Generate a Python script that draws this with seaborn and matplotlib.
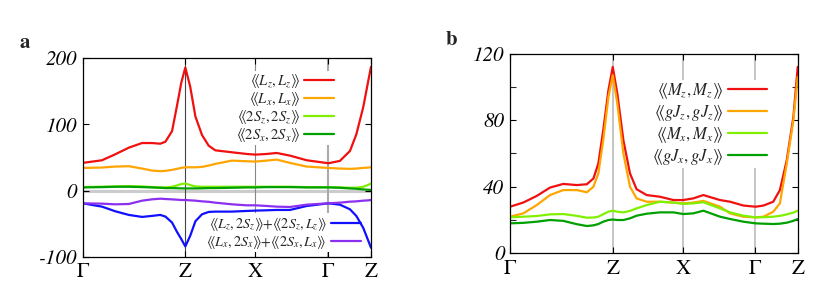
import numpy as np
import pandas as pd
import matplotlib
matplotlib.use("Agg")
import matplotlib.pyplot as plt
from matplotlib.font_manager import FontProperties
import seaborn as sns

# ---------------- data ----------------
kpath_labels = ["Γ", "Z", "X", "Γ", "Z"]
kpath_a = [0.0, 0.356, 0.599, 0.852, 1.0]
kpath_b = [0.0, 0.357, 0.602, 0.852, 1.0]
yticks_a = [-100, 0, 100, 200]
yticks_b = [0, 40, 80, 120]

xa = [0.0, 0.067, 0.113, 0.160, 0.206, 0.240, 0.269, 0.287, 0.310, 0.327, 0.342,
      0.356, 0.373, 0.391, 0.414, 0.437, 0.460, 0.518, 0.569, 0.599, 0.638, 0.673,
      0.719, 0.777, 0.852, 0.892, 0.927, 0.949, 0.973, 0.991, 1.0]
LzLz = [42, 46, 55, 65, 72, 72, 71, 74, 90, 128, 163, 186, 157, 112, 84, 68, 61, 58,
        55.5, 54.5, 55.5, 57, 53, 46, 41.5, 45, 60, 85, 126, 167, 187]
LxLx = [34.4, 35, 36.5, 37, 33.5, 30.5, 29.5, 30, 31.5, 33, 34.5, 35.4, 35.4, 35.4, 36,
        38, 40.5, 45.5, 44.5, 44, 45.5, 47, 42, 36.5, 34.4, 33.5, 33, 33.5, 34.5, 35, 35.4]
SzSz = [5.5, 6, 6.5, 7, 6.5, 5.5, 5, 5, 6, 8, 10, 11, 8.5, 6.5, 6, 6, 6, 6, 6, 6, 6, 6,
        6, 5.5, 5.5, 5, 4.5, 4.5, 6, 9, 11]
SxSx = [5, 5.5, 6, 6, 5.5, 5, 4.5, 4, 4, 3.8, 3.6, 3.5, 3.5, 3.5, 3.7, 4, 4, 4.5, 5, 5,
        5.5, 5.5, 5.5, 5, 5, 4.5, 3.5, 3, 2, 1.5, 1]
LzSz = [-19, -24, -31, -36.5, -39.5, -38, -36.5, -39, -48, -62, -73, -84, -68, -46,
        -35.5, -32, -31.5, -31.5, -30.5, -30, -29.5, -29, -29, -23, -19, -21, -28, -38,
        -56, -76, -86]
LxSx = [-19, -19.5, -20.5, -20, -15, -13, -12, -12.5, -13, -13.5, -14, -14, -14.5, -15,
        -16, -16.7, -18, -20.5, -22, -22, -23, -24, -24.5, -21, -19, -18, -16.5, -16,
        -15, -14.5, -14]

xb = [0.0, 0.046, 0.093, 0.139, 0.185, 0.232, 0.267, 0.290, 0.307, 0.324, 0.342, 0.357,
      0.373, 0.394, 0.417, 0.440, 0.475, 0.521, 0.568, 0.602, 0.637, 0.672, 0.730,
      0.765, 0.811, 0.854, 0.881, 0.915, 0.938, 0.962, 0.985, 1.0]
MzMz = [28, 30.5, 34.5, 39.5, 41.7, 41, 41.5, 45, 54, 74, 98, 112, 96, 68, 48, 38.5, 35,
        34, 32, 32, 33, 35, 32, 31, 28.7, 28, 28.7, 31, 38, 56, 82, 112]
gJzgJz = [22, 24, 29, 35, 38, 38, 36.7, 40, 48, 68, 94, 107, 90, 60, 40, 33, 31, 31,
          30.5, 30, 30.5, 31.5, 28, 24, 22, 21.6, 22, 25, 30, 54, 80, 106]
MxMx = [21.6, 22, 22.4, 23.4, 23.6, 22.5, 21.4, 21.5, 22, 23.5, 25, 25.6, 25, 24.6,
        25.5, 27, 29, 31, 30.5, 29.7, 30, 30.7, 27, 24.6, 22.6, 21.6, 21.7, 22, 22.5,
        23.4, 24.5, 25.6]
gJxgJx = [18, 18.3, 19, 20, 19.5, 17.5, 16.4, 16.8, 17.6, 19, 20, 20.3, 20, 20, 21,
          22.6, 23.8, 24.6, 24.6, 23.6, 24, 25.6, 22, 20.6, 19, 18, 17.8, 17.6, 17.8,
          18.4, 19.5, 20.6]

labels_a_top = [r"⟪$L_z,L_z$⟫", r"⟪$L_x,L_x$⟫", r"⟪$\mathit{2}S_z,\mathit{2}S_z$⟫",
                r"⟪$\mathit{2}S_x,\mathit{2}S_x$⟫"]
labels_a_bot = [r"⟪$L_z,\mathit{2}S_z$⟫+⟪$\mathit{2}S_z,L_z$⟫",
                r"⟪$L_x,\mathit{2}S_x$⟫+⟪$\mathit{2}S_x,L_x$⟫"]
labels_b = [r"⟪$M_z,M_z$⟫", r"⟪$gJ_z,gJ_z$⟫", r"⟪$M_x,M_x$⟫", r"⟪$gJ_x,gJ_x$⟫"]

RED, ORANGE, LGREEN, DGREEN, BLUE, PURPLE = ("#f01010", "#ffa500", "#80f000",
                                             "#00a000", "#1010ff", "#8c30f0")

# ---------------- style ----------------
sns.set_theme(style="ticks")
plt.rcParams["font.family"] = ["STIXGeneral", "Liberation Serif", "DejaVu Sans"]
plt.rcParams["mathtext.fontset"] = "stix"
plt.rcParams["axes.unicode_minus"] = False

fig = plt.figure(figsize=(8.3, 2.98), dpi=100)
axA = fig.add_axes([0.0996, 0.1376, 0.3474, 0.667])
axB = fig.add_axes([0.6145, 0.150, 0.3466, 0.670])

fp_it = FontProperties(family="STIXGeneral", style="italic", size=15)
fp_rm = FontProperties(family="STIXGeneral", size=15)


def draw(ax, x, series, colors):
    handles = []
    for y, c in zip(series, colors):
        sns.lineplot(x=x, y=y, ax=ax, color=c, lw=1.6, legend=False, sort=False)
        handles.append(ax.lines[-1])
    return handles


def frame(ax, kp, yt):
    ax.set_xlim(0, 1)
    ax.set_xticks(kp)
    ax.set_yticks(yt)
    ax.tick_params(axis="both", direction="in", length=4, width=0.8, top=True,
                   right=True, colors="black")
    ax.tick_params(axis="x", pad=4)
    ax.tick_params(axis="y", pad=4)
    ax.set_xticklabels(kpath_labels, fontproperties=fp_rm)
    ax.set_yticklabels([str(v) for v in yt], fontproperties=fp_it)
    for s in ax.spines.values():
        s.set_color("black")
        s.set_linewidth(0.9)
    ax.set_xlabel("")
    ax.set_ylabel("")


# ---------- panel a ----------
axA.axhline(0, color="#cccccc", lw=2.2, zorder=0)
axA.axvline(kpath_a[1], color="#444444", lw=0.8, zorder=0)
axA.axvline(kpath_a[2], color="#888888", lw=0.8, zorder=0)
axA.axvline(kpath_a[3], color="#aaaaaa", lw=1.5, zorder=0)
hA = draw(axA, xa, [LzLz, LxLx, SzSz, SxSx, LzSz, LxSx],
          [RED, ORANGE, LGREEN, DGREEN, BLUE, PURPLE])
axA.set_ylim(-100, 200)
frame(axA, kpath_a, yticks_a)

legkw = dict(markerfirst=False, frameon=True, facecolor="white", edgecolor="none",
             framealpha=1, borderpad=0.1, borderaxespad=0, handletextpad=0.3,
             fancybox=False)
leg1 = axA.legend(hA[:4], labels_a_top, loc="upper right", bbox_to_anchor=(0.875, 0.935),
                  fontsize=10.5, handlelength=2.0, labelspacing=0.0, **legkw)
leg1.set_zorder(1.5)
axA.add_artist(leg1)
leg2 = axA.legend(hA[4:], labels_a_bot, loc="lower right", bbox_to_anchor=(0.969, 0.025),
                  fontsize=10.2, handlelength=2.1, labelspacing=0.0, **legkw)
leg2.set_zorder(1.5)

# ---------- panel b ----------
for k in kpath_b[1:4]:
    axB.axvline(k, color="#bbbbbb", lw=1.2, zorder=0)
hB = draw(axB, xb, [MzMz, gJzgJz, MxMx, gJxgJx], [RED, ORANGE, LGREEN, DGREEN])
axB.set_ylim(0, 120)
frame(axB, kpath_b, yticks_b)
axB.set_yticks([20, 60, 100], minor=True)
axB.tick_params(which="minor", direction="in", length=4, width=0.8, left=True,
                right=True)
leg3 = axB.legend(hB, labels_b, loc="upper right", bbox_to_anchor=(0.898, 0.87),
                  fontsize=12, handlelength=2.3, labelspacing=0.12, **legkw)
leg3.set_zorder(1.5)

fig.text(0.024, 0.838, "a", fontsize=15, fontweight="bold")
fig.text(0.537, 0.85, "b", fontsize=15, fontweight="bold")

fig.savefig("out.png", dpi=100)
